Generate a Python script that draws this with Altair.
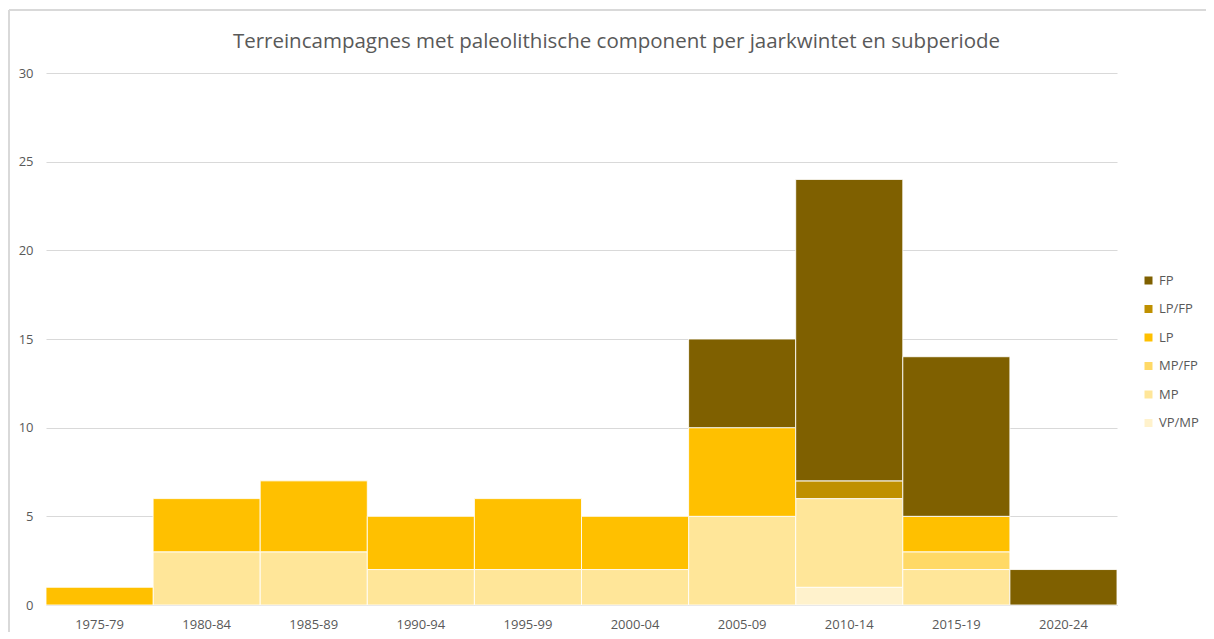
import altair as alt
import pandas as pd

periods = ["1975-79", "1980-84", "1985-89", "1990-94", "1995-99",
           "2000-04", "2005-09", "2010-14", "2015-19", "2020-24"]
series_names = ["VP/MP", "MP", "MP/FP", "LP", "LP/FP", "FP"]  # bottom -> top
vp_mp = [0, 0, 0, 0, 0, 0, 0, 1, 0, 0]
mp    = [0, 3, 3, 2, 2, 2, 5, 5, 2, 0]
mp_fp = [0, 0, 0, 0, 0, 0, 0, 0, 1, 0]
lp    = [1, 3, 4, 3, 4, 3, 5, 0, 2, 0]
lp_fp = [0, 0, 0, 0, 0, 0, 0, 1, 0, 0]
fp    = [0, 0, 0, 0, 0, 0, 5, 17, 9, 2]
colors = ["#FFF2CC", "#FFE699", "#FFD966", "#FFC000", "#BF9000", "#7F6000"]
y_ticks = [0, 5, 10, 15, 20, 25, 30]
title_text = "Terreincampagnes met paleolithische component per jaarkwintet en subperiode"

values = [vp_mp, mp, mp_fp, lp, lp_fp, fp]
rows = []
for si, (name, vals) in enumerate(zip(series_names, values)):
    for p, v in zip(periods, vals):
        if v > 0:
            rows.append({"periode": p, "subperiode": name, "aantal": v, "idx": si})
df = pd.DataFrame(rows)

legend_order = list(reversed(series_names))
legend_colors = list(reversed(colors))

FONT = "Open Sans"
GRAY = "#595959"

bars = alt.Chart(df).mark_bar(stroke="white", strokeWidth=1, strokeOpacity=0.85).encode(
    x=alt.X("periode:N", sort=periods, title=None,
            scale=alt.Scale(paddingInner=0, paddingOuter=0),
            axis=alt.Axis(labelAngle=0, ticks=False, domainColor="#d9d9d9",
                          labelColor=GRAY, labelFontSize=13, labelPadding=13,
                          labelFont=FONT)),
    y=alt.Y("aantal:Q", stack="zero", title=None,
            scale=alt.Scale(domain=[0, 30], nice=False),
            axis=alt.Axis(values=y_ticks, ticks=False, domain=False,
                          gridColor="#d9d9d9", labelColor=GRAY, labelFontSize=13,
                          labelPadding=13, labelFont=FONT)),
    color=alt.Color("subperiode:N",
                    scale=alt.Scale(domain=legend_order, range=legend_colors),
                    legend=alt.Legend(title=None, orient="none", legendX=1096,
                                      legendY=201, symbolType="square",
                                      symbolSize=64, symbolStrokeWidth=0,
                                      labelFontSize=13, labelColor=GRAY,
                                      labelOffset=4,
                                      labelFont=FONT, rowPadding=14.5, padding=0)),
    order=alt.Order("idx:Q", sort="ascending"),
)

border_left = alt.Chart(df).mark_rule(color="#d9d9d9", strokeWidth=1.5).encode(
    x=alt.value(-37), y=alt.value(-63), y2=alt.value(600))
border_top = alt.Chart(df).mark_rule(color="#d9d9d9", strokeWidth=1.5).encode(
    x=alt.value(-37), x2=alt.value(1160), y=alt.value(-63))

chart = alt.layer(bars, border_left, border_top).properties(
    width=1071, height=532,
    autosize=alt.AutoSizeParams(type="none"),
    padding={"left": 38, "top": 65, "right": 89, "bottom": 27},
    title=alt.TitleParams(title_text, fontSize=20.5, font=FONT, fontWeight="normal",
                          color=GRAY, anchor="middle", dx=35, offset=-43),
).configure(background="white").configure_view(stroke=None)

chart.save("out.html", embed_options={"renderer": "svg", "actions": False})
